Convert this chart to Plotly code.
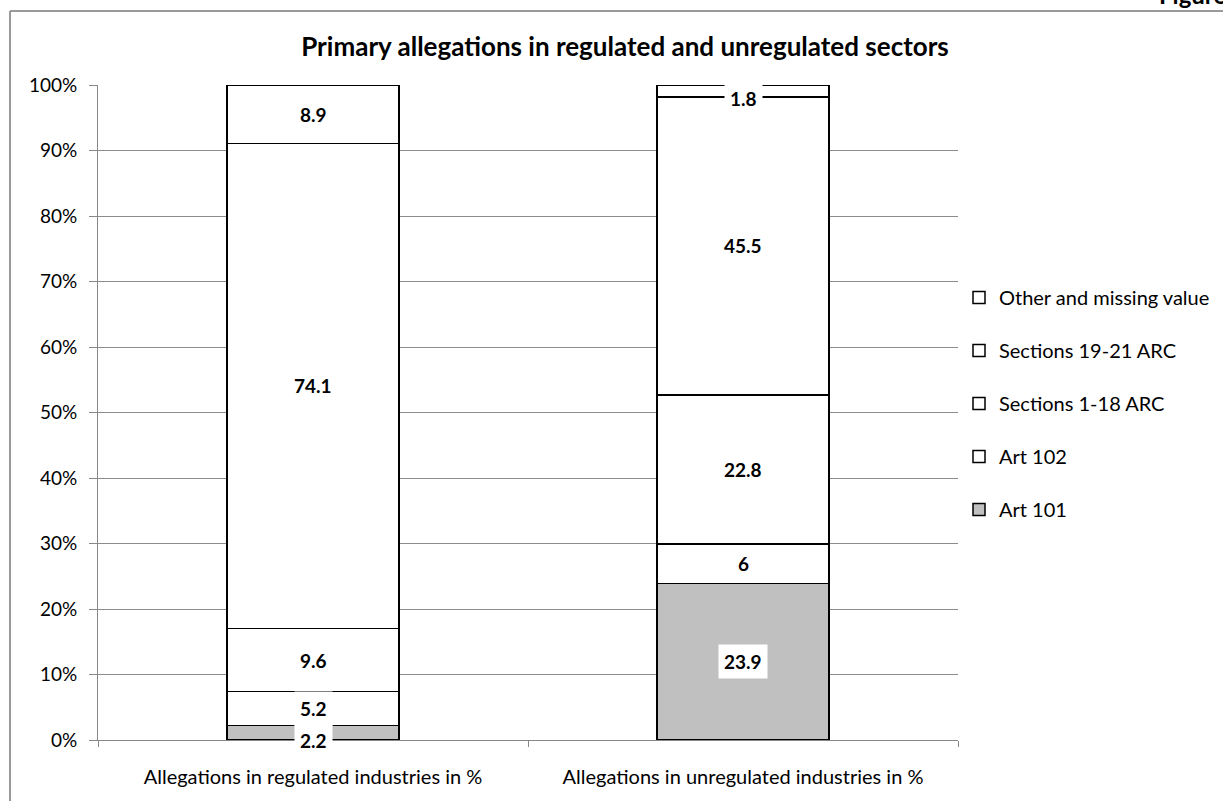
import plotly.graph_objects as go

categories = ["Allegations in regulated industries in %", "Allegations in unregulated industries in %"]
series_names = ["Art 101", "Art 102", "Sections 1-18 ARC", "Sections 19-21 ARC", "Other and missing value"]
art101 = [2.2, 23.9]
art102 = [5.2, 6]
sec1_18 = [9.6, 22.8]
sec19_21 = [74.1, 45.5]
other = [8.9, 1.8]
label_texts = {
    "Art 101": ["2.2", "23.9"],
    "Art 102": ["5.2", "6"],
    "Sections 1-18 ARC": ["9.6", "22.8"],
    "Sections 19-21 ARC": ["74.1", "45.5"],
    "Other and missing value": ["8.9", "1.8"],
}
series_values = [art101, art102, sec1_18, sec19_21, other]
fills = ["#C0C0C0", "#FFFFFF", "#FFFFFF", "#FFFFFF", "#FFFFFF"]

FONT = "Lato, Calibri, Carlito, 'Open Sans', sans-serif"

fig = go.Figure()
n = len(series_names)
for i, (name, vals) in enumerate(zip(series_names, series_values)):
    fig.add_trace(go.Bar(
        name=name, x=categories, y=vals,
        marker=dict(color=fills[i], line=dict(color="#000000", width=1.5)),
        legendgroup=name, legendrank=n - i,
        hoverinfo="skip",
    ))

# data labels at segment centres
annotations = []
cum = [0.0, 0.0]
for name, vals in zip(series_names, series_values):
    for j, v in enumerate(vals):
        centre = cum[j] + v / 2
        annotations.append(dict(
            x=categories[j], y=centre, xref="x", yref="y",
            text="<b>%s</b>" % label_texts[name][j], showarrow=False,
            font=dict(family=FONT, size=19, color="#000000"),
            bgcolor="#FFFFFF", borderpad=5,
            yshift=-8 if v < 3 else 0,
        ))
        cum[j] += v

fig.update_layout(
    width=1223, height=801,
    margin=dict(l=98, r=265, t=85, b=61, autoexpand=False),
    paper_bgcolor="#FFFFFF", plot_bgcolor="#FFFFFF",
    barmode="stack", bargap=0.6,
    font=dict(family=FONT, size=19, color="#000000"),
    title=dict(text="<b>Primary allegations in regulated and unregulated sectors</b>",
               x=625 / 1223, xanchor="center", y=1 - 47 / 801, yanchor="middle",
               font=dict(family=FONT, size=26, color="#000000")),
    legend=dict(x=(959 - 98) / 860, xanchor="left", y=(740 - 278) / 655, yanchor="top",
                traceorder="grouped", tracegroupgap=24,
                font=dict(family=FONT, size=20, color="#000000"),
                itemwidth=30, bgcolor="rgba(0,0,0,0)"),
    showlegend=True,
    xaxis=dict(showgrid=False, showline=True, linecolor="#888888", linewidth=1,
               ticks="outside", tickson="boundaries", ticklen=6, tickcolor="#888888",
               ticklabelstandoff=19,
               tickfont=dict(family=FONT, size=20, color="#000000"),
               fixedrange=True),
    yaxis=dict(range=[0, 100], dtick=10, ticksuffix="%", showgrid=True,
               gridcolor="#8C8C8C", gridwidth=1, showline=True, linecolor="#888888",
               linewidth=1, ticks="outside", ticklen=8, tickcolor="#888888",
               ticklabelstandoff=8,
               tickfont=dict(family=FONT, size=19, color="#000000"),
               zeroline=False, fixedrange=True),
    annotations=annotations,
)

# outer frame lines (left and top) and clipped "Figure" heading
def px_x(px):
    return (px - 98) / 860

def px_y(py):
    return (740 - py) / 655

fig.add_shape(type="line", xref="paper", yref="paper",
              x0=px_x(10), y0=px_y(801), x1=px_x(10), y1=px_y(11),
              line=dict(color="#999999", width=2))
fig.add_shape(type="line", xref="paper", yref="paper",
              x0=px_x(10), y0=px_y(11), x1=px_x(1223), y1=px_y(11),
              line=dict(color="#999999", width=2))
fig.add_annotation(x=px_x(1228), y=px_y(11), xref="paper", yref="paper",
                   xanchor="right", yanchor="bottom", showarrow=False,
                   text="<b>Figure</b>", font=dict(family=FONT, size=24, color="#000000"))

fig.write_html("out.html", config={"displayModeBar": False},
               post_script="document.body.style.margin='0px';")
